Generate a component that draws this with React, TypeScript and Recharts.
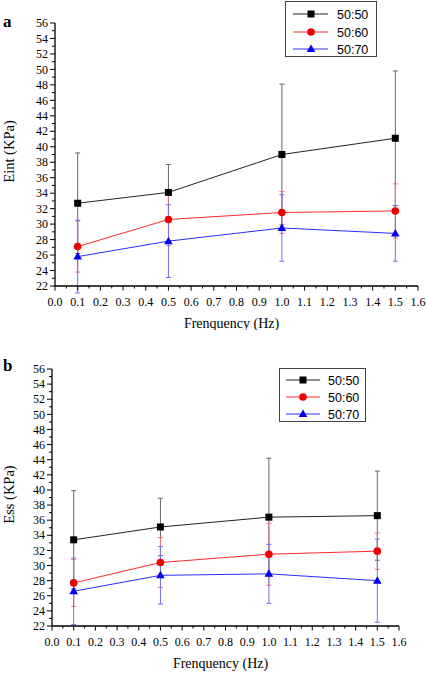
import React from 'react';
import { ComposedChart, Line, XAxis, YAxis, ErrorBar, Legend } from 'recharts';

// ---------- data ----------
const frequencies = [0.1, 0.5, 1.0, 1.5];
const seriesNames = ['50:50', '50:60', '50:70'];

// Panel a: Eint (KPa)
const eint5050 = [32.7, 34.1, 39.0, 41.1];
const eint5050Err = [6.5, 3.6, 9.1, 8.7];
const eint5060 = [27.1, 30.6, 31.5, 31.7];
const eint5060Err = [3.3, 3.4, 2.7, 3.5];
const eint5070 = [25.8, 27.8, 29.5, 28.8];
const eint5070Err = [4.7, 4.7, 4.3, 3.6];

// Panel b: Ess (KPa)
const ess5050 = [33.4, 35.1, 36.4, 36.6];
const ess5050Err = [6.5, 3.8, 7.8, 5.9];
const ess5060 = [27.7, 30.4, 31.5, 31.9];
const ess5060Err = [3.1, 3.3, 4.1, 2.4];
const ess5070 = [26.6, 28.7, 28.9, 28.0];
const ess5070Err = [4.4, 3.8, 3.9, 5.5];

const xTicks = [
  0, 0.05, 0.1, 0.15, 0.2, 0.25, 0.3, 0.35, 0.4, 0.45, 0.5, 0.55, 0.6, 0.65, 0.7, 0.75, 0.8,
  0.85, 0.9, 0.95, 1.0, 1.05, 1.1, 1.15, 1.2, 1.25, 1.3, 1.35, 1.4, 1.45, 1.5, 1.55, 1.6,
];
const yTicks = [
  22, 23, 24, 25, 26, 27, 28, 29, 30, 31, 32, 33, 34, 35, 36, 37, 38, 39, 40, 41, 42, 43, 44,
  45, 46, 47, 48, 49, 50, 51, 52, 53, 54, 55, 56,
];

const buildRows = (a: number[], ae: number[], b: number[], be: number[], c: number[], ce: number[]) =>
  frequencies.map((f, i) => ({ f, s1: a[i], s1e: ae[i], s2: b[i], s2e: be[i], s3: c[i], s3e: ce[i] }));

const dataA = buildRows(eint5050, eint5050Err, eint5060, eint5060Err, eint5070, eint5070Err);
const dataB = buildRows(ess5050, ess5050Err, ess5060, ess5060Err, ess5070, ess5070Err);

// ---------- styles ----------
const SERIF = "'Liberation Serif', 'Times New Roman', serif";
const SANS = "'Liberation Sans', Arial, sans-serif";
const lineColors = ['#222222', '#ff2a2a', '#2a2aff'];
const markerColors = ['#000000', '#ee0000', '#0000ee'];
const errColors = ['#666666', '#f07080', '#7070f0'];
const markerKinds = ['square', 'circle', 'triangle'];

function Marker({ kind, cx, cy, color }: { kind: string; cx: number; cy: number; color: string }) {
  if (cx == null || cy == null) return null;
  if (kind === 'square') return <rect x={cx - 3.5} y={cy - 3.5} width={7} height={7} fill={color} />;
  if (kind === 'circle') return <circle cx={cx} cy={cy} r={3.8} fill={color} />;
  return <polygon points={`${cx},${cy - 4.5} ${cx + 4.3},${cy + 3} ${cx - 4.3},${cy + 3}`} fill={color} />;
}

function XTick(props: any) {
  const { x, y, payload } = props;
  const v = payload.value as number;
  const major = Math.abs(v * 10 - Math.round(v * 10)) < 1e-6;
  return (
    <g>
      <line x1={x} x2={x} y1={y} y2={y + (major ? 4.5 : 2.5)} stroke="#000" strokeWidth={1} />
      {major && (
        <text x={x} y={y + 20} textAnchor="middle" fontFamily={SERIF} fontSize={12} fill="#000">
          {v.toFixed(1)}
        </text>
      )}
    </g>
  );
}

function YTick(props: any) {
  const { x, y, payload } = props;
  const v = payload.value as number;
  const major = v % 2 === 0;
  return (
    <g>
      <line x1={x} x2={x - (major ? 5 : 3)} y1={y} y2={y} stroke="#000" strokeWidth={1} />
      {major && (
        <text x={x - 7} y={y} dy="0.35em" textAnchor="end" fontFamily={SERIF} fontSize={12} fill="#000">
          {v}
        </text>
      )}
    </g>
  );
}

type LegendCfg = { left: number; top: number; w: number; h: number; rows: number[]; l1: number; l2: number; m: number; t: number };

function LegendBox({ payload, cfg }: { payload?: any[]; cfg: LegendCfg }) {
  return (
    <svg width={cfg.w} height={cfg.h} style={{ display: 'block' }}>
      <rect x={0.5} y={0.5} width={cfg.w - 1} height={cfg.h - 1} fill="#fff" stroke="#444" strokeWidth={1} />
      {(payload || []).map((e: any, i: number) => {
        const y = cfg.rows[i];
        return (
          <g key={i}>
            <line x1={cfg.l1} x2={cfg.l2} y1={y} y2={y} stroke={e.color} strokeWidth={1} />
            <Marker kind={markerKinds[i]} cx={cfg.m} cy={y} color={markerColors[i]} />
            <text x={cfg.t} y={y} dy="0.36em" fontFamily={SANS} fontSize={12.5} fill="#000">
              {e.value}
            </text>
          </g>
        );
      })}
    </svg>
  );
}

type PanelProps = {
  data: any[];
  width: number;
  height: number;
  margin: { top: number; right: number; bottom: number; left: number };
  yLabel: string;
  legend: LegendCfg;
};

function Panel({ data, width, height, margin, yLabel, legend }: PanelProps) {
  const keys = ['s1', 's2', 's3'];
  return (
    <ComposedChart width={width} height={height} data={data} margin={margin}>
      <XAxis
        type="number"
        dataKey="f"
        domain={[0, 1.6]}
        ticks={xTicks}
        interval={0}
        height={1}
        tickSize={0}
        tickMargin={0}
        tickLine={false}
        tick={(p: any) => <XTick {...p} />}
        axisLine={{ stroke: '#000', strokeWidth: 1.3 }}
        label={{
          content: (p: any) => {
            const vb = p.viewBox;
            return (
              <text x={vb.x + vb.width / 2 - 5} y={vb.y + 42} textAnchor="middle" fontFamily={SERIF} fontSize={14} fill="#000">
                Frenquency (Hz)
              </text>
            );
          },
        }}
      />
      <YAxis
        type="number"
        domain={[22, 56]}
        ticks={yTicks}
        interval={0}
        width={1}
        allowDataOverflow
        tickSize={0}
        tickMargin={0}
        tickLine={false}
        tick={(p: any) => <YTick {...p} />}
        axisLine={{ stroke: '#000', strokeWidth: 1.3 }}
        label={{
          content: (p: any) => {
            const vb = p.viewBox;
            const cx = 9;
            const cy = vb.y + vb.height / 2 - 3;
            return (
              <text
                x={cx}
                y={cy}
                transform={`rotate(-90 ${cx} ${cy})`}
                textAnchor="middle"
                dy="0.35em"
                fontFamily={SERIF}
                fontSize={14.5}
                fill="#000"
              >
                {yLabel}
              </text>
            );
          },
        }}
      />
      <Legend
        layout="horizontal"
        verticalAlign="middle"
        align="center"
        wrapperStyle={{ left: legend.left, top: legend.top, width: legend.w, height: legend.h, margin: 0 }}
        content={(p: any) => <LegendBox payload={p.payload} cfg={legend} />}
      />
      {keys.map((k, i) => (
        <Line
          key={k}
          type="linear"
          dataKey={k}
          name={seriesNames[i]}
          stroke={lineColors[i]}
          strokeWidth={1}
          isAnimationActive={false}
          activeDot={false}
          dot={(p: any) => <Marker key={`${k}-${p.index}`} kind={markerKinds[i]} cx={p.cx} cy={p.cy} color={markerColors[i]} />}
        >
          <ErrorBar
            dataKey={`${k}e`}
            direction="y"
            width={2.5}
            stroke={errColors[i]}
            strokeWidth={1}
            isAnimationActive={false}
          />
        </Line>
      ))}
    </ComposedChart>
  );
}

const legendA: LegendCfg = { left: 285, top: 1, w: 92, h: 56, rows: [13, 31, 48], l1: 8, l2: 43, m: 26, t: 52 };
const legendB: LegendCfg = { left: 279, top: 38, w: 87, h: 54, rows: [12, 29, 46], l1: 7, l2: 41, m: 24, t: 49 };

export default function App() {
  return (
    <div style={{ position: 'absolute', left: 0, top: 0, width: 427, height: 673, background: '#fff', overflow: 'hidden' }}>
      <div style={{ position: 'absolute', left: 0, top: 0 }}>
        <Panel
          data={dataA}
          width={427}
          height={330}
          margin={{ top: 23, right: 9, bottom: 43, left: 54 }}
          yLabel="Eint (KPa)"
          legend={legendA}
        />
      </div>
      <div style={{ position: 'absolute', left: 0, top: 330 }}>
        <Panel
          data={dataB}
          width={427}
          height={343}
          margin={{ top: 39, right: 28, bottom: 46, left: 51 }}
          yLabel="Ess (KPa)"
          legend={legendB}
        />
      </div>
      <div style={{ position: 'absolute', left: 3, top: 13, fontFamily: SERIF, fontWeight: 'bold', fontSize: 17, lineHeight: '17px' }}>a</div>
      <div style={{ position: 'absolute', left: 3, top: 357, fontFamily: SERIF, fontWeight: 'bold', fontSize: 17, lineHeight: '17px' }}>b</div>
    </div>
  );
}
